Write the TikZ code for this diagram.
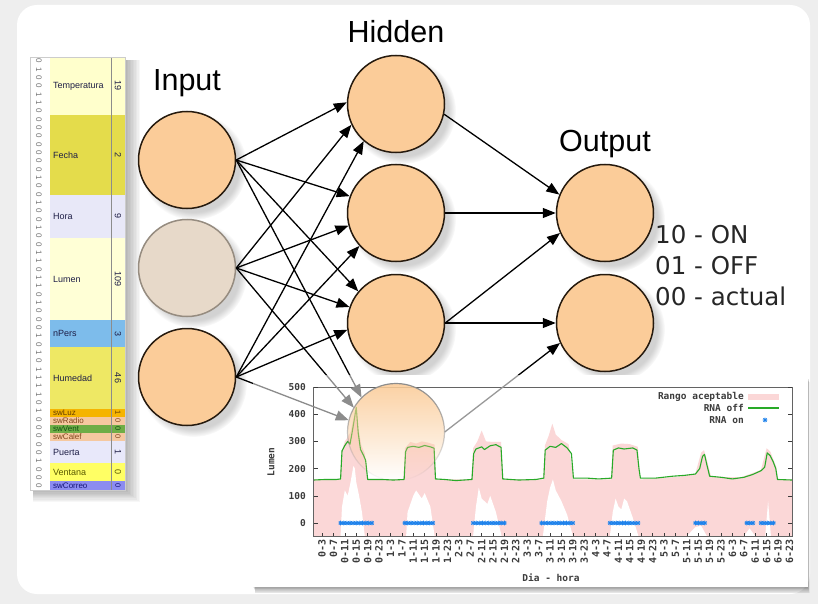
\documentclass[tikz,border=0pt]{standalone}
\usepackage{fontspec}
\setmainfont{Liberation Sans}
\newfontfamily\djvfont{DejaVu Sans}
\newfontfamily\plotmono{DejaVu Sans Mono}
\usetikzlibrary{arrows.meta,shadows,fadings}

\definecolor{bgpage}{RGB}{238,238,238}
\definecolor{peach}{RGB}{251,204,153}
\definecolor{rim}{RGB}{38,26,14}
\definecolor{fadefill}{RGB}{231,217,201}
\definecolor{faderim}{RGB}{150,140,128}
\definecolor{pinkr}{RGB}{251,215,215}
\definecolor{greenl}{RGB}{40,170,40}
\definecolor{starblue}{RGB}{30,130,235}
\definecolor{plotgray}{RGB}{60,60,60}
\definecolor{rowA}{RGB}{255,255,204}
\definecolor{rowB}{RGB}{228,220,75}
\definecolor{rowC}{RGB}{232,232,248}
\definecolor{rowD}{RGB}{255,255,214}
\definecolor{rowE}{RGB}{125,188,235}
\definecolor{rowF}{RGB}{238,232,100}
\definecolor{rowG}{RGB}{245,180,0}
\definecolor{rowH}{RGB}{245,200,160}
\definecolor{rowI}{RGB}{110,173,70}
\definecolor{rowK}{RGB}{232,232,250}
\definecolor{rowL}{RGB}{255,255,100}
\definecolor{rowM}{RGB}{140,140,240}
\definecolor{labA}{RGB}{30,30,70}
\definecolor{labG}{RGB}{100,60,0}
\definecolor{labH}{RGB}{130,70,30}
\definecolor{labI}{RGB}{20,80,20}
\definecolor{labL}{RGB}{90,90,0}
\definecolor{labM}{RGB}{20,20,120}

\newcommand\rnastar[1]{%
  \draw[starblue, line width=0.7pt] ({#1},0) +(-2.3pt,0) -- +(2.3pt,0)
     +(0,-2.3pt) -- +(0,2.3pt) +(-1.7pt,-1.7pt) -- +(1.7pt,1.7pt)
     +(-1.7pt,1.7pt) -- +(1.7pt,-1.7pt);}

\begin{document}
\begin{tikzpicture}[x=1pt,y=-1pt,
  neuron/.style={circle,draw=rim,line width=1.5pt,fill=peach,minimum size=97pt,inner sep=0pt,
     circular drop shadow={shadow xshift=6pt,shadow yshift=-6pt,opacity=0.35}},
  neuronfaded/.style={neuron,draw=faderim,fill=fadefill},
  conn/.style={line width=1.3pt,-{Triangle[length=13pt,width=10pt]}},
  title/.style={font=\fontsize{30.5}{36}\selectfont,inner sep=0pt,anchor=base},
  code/.style={font=\djvfont\fontsize{24.5}{29}\selectfont,inner sep=0pt,anchor=base west,text=black!85},
  bit/.style={font=\fontsize{8}{9}\selectfont,text=black!55,rotate=-90,inner sep=0pt},
  rowlab/.style={font=\fontsize{9}{10}\selectfont,anchor=west,inner sep=0pt},
  rowlabs/.style={font=\fontsize{8}{8}\selectfont,anchor=west,inner sep=0pt},
  rowval/.style={font=\fontsize{9}{10}\selectfont,rotate=-90,inner sep=0pt},
  pfont/.style={font=\plotmono\bfseries\fontsize{9.5}{10}\selectfont,text=plotgray,inner sep=0pt},
  xlab/.style={pfont,font=\plotmono\bfseries\fontsize{10}{10}\selectfont,rotate=90,anchor=east},
  ylab/.style={pfont,anchor=east},
]
\useasboundingbox (0,0) rectangle (818,604);
\fill[bgpage] (0,0) rectangle (818,604);
\fill[white, rounded corners=20pt] (17,5) rectangle (810,594);

% ---------------- left data bar ----------------
\foreach \k in {1,...,10} {\fill[black,opacity=0.03] (33,60) rectangle ({125+\k*1.5},{490+\k*1.2});}
\fill[white] (30,57) rectangle (125,490);
\foreach \ya/\yb/\col/\lab/\val/\tc [count=\i] in {
  57/115/rowA/Temperatura/19/labA, 115/195/rowB/Fecha/2/labA, 195/238/rowC/Hora/9/labA,
  238/320/rowD/Lumen/109/labA, 320/347/rowE/nPers/3/labA, 347/409/rowF/Humedad/46/labA,
  441/463/rowK/Puerta/1/labA, 463/481/rowL/Ventana/0/labL} {
  \fill[\col] (50,\ya) rectangle (125,\yb);
  \node[rowlab,text=\tc] (rl\i) at (53,{(\ya+\yb)/2}) {\lab};
  \node[rowval,text=\tc] (rv\i) at (118,{(\ya+\yb)/2}) {\val};
}
\foreach \ya/\yb/\col/\lab/\val/\tc [count=\i] in {
  409/417/rowG/swLuz/1/labG, 417/425/rowH/swRadio/0/labH, 425/433/rowI/swVent/0/labI,
  433/441/rowH/swCalef/0/labH, 481/490/rowM/swCorreo/0/labM} {
  \fill[\col] (50,\ya) rectangle (125,\yb);
  \node[rowlabs,text=\tc] (sl\i) at (53,{(\ya+\yb)/2}) {\lab};
  \node[rowval,text=\tc,font=\fontsize{7.5}{8}\selectfont] (sv\i) at (118,{(\ya+\yb)/2}) {\val};
}
\draw[black!45, line width=0.6pt] (111,57) -- (111,490);
\draw[black!20, line width=0.5pt] (30,57) rectangle (125,490);
\foreach \d [count=\i] in {0,1,0,0,1,1,0,0,0,0,0,0,0,0,1,0,0,1,0,0,1,0,0,1,1,0,1,1,0,1,0,
                           0,0,1,0,1,0,1,1,1,1,0,1,0,0,0,0,0,1,0,0,0} {
  \node[bit] (b\i) at (39,{57+(\i-0.5)*8.33}) {\d};
}

% ---------------- titles ----------------
\node[title] (tin) at (187,91) {Input};
\node[title] (thid) at (396,43) {Hidden};
\node[title] (tout) at (605,152) {Output};

% ---------------- neurons ----------------
\node[neuron] (in1) at (187,160) {};
\node[neuronfaded] (in2) at (187,268) {};
\node[neuron] (in3) at (187,377) {};
\node[neuron] (h1) at (396,104) {};
\node[neuron] (h2) at (396,213) {};
\node[neuron] (h3) at (396,323) {};
\node[circle,minimum size=97pt,inner sep=0pt] (h4) at (396,432) {};
\node[neuron] (o1) at (605,213) {};
\node[neuron] (o2) at (605,323) {};

% ---------------- connections ----------------
\draw[conn] (in1.east) -- (h1.178);
\draw[conn] (in2.east) -- (h1.205);
\draw[conn] (in3.east) -- (h1.229);
\draw[conn] (in1.east) -- (h2.160);
\draw[conn] (in2.east) -- (h2.195);
\draw[conn] (in3.east) -- (h2.222);
\draw[conn] (in1.east) -- (h3.140);
\draw[conn] (in2.east) -- (h3.161);
\draw[conn] (in3.east) -- (h3.188);
\draw[conn] (in1.east) -- (h4.135);
\draw[conn] (in2.east) -- (h4.150);
\draw[conn] (in3.east) -- (h4.166);
\draw[conn] (h1.-12) -- (o1.158);
\draw[conn] (h2.east) -- (o1.west);
\draw[conn] (h3.east) -- (o1.204);
\draw[conn] (h3.east) -- (o2.west);
\draw[conn] (h4.east) -- (o2.204);

\node[code] (c1) at (655,243) {10 - ON};
\node[code] (c2) at (655,274) {01 - OFF};
\node[code] (c3) at (655,305) {00 - actual};

% ---------------- chart panel ----------------
\foreach \k in {1,...,8} {\fill[black,opacity=0.05] ({253+\k*0.3},{377+\k*0.6}) rectangle ({808+\k*0.2},{587+\k*0.8});}
\fill[white] (253,375) rectangle (808,587);

\begin{scope}[shift={(313.5,523)}, x=2.85pt, y=0.272pt]
  \fill[pinkr] (0,-48) -- plot coordinates {(0,160) (9.3,160) (9.8,260) (11,300) (12,315) (13,335) (14,385) (15,435) (15.8,345) (16.8,285) (18,255) (19,160) (31.6,160) (32.1,275) (34,298) (36,292) (38,300) (40,296) (42.5,288) (42.9,160) (55.4,160) (56,275) (57.5,300) (59,340) (60.5,300) (63,298) (65.8,298) (66.6,160) (80.6,160) (81.2,285) (82.5,320) (83.8,365) (85,325) (87,305) (89.5,290) (91.3,160) (104.4,160) (105,285) (108,292) (111,290) (113.8,280) (114.6,160) (128,170) (134,182) (136,258) (137,268) (138.2,225) (139.5,170) (150,168) (157,195) (159,275) (160.3,262) (162.4,205) (163,160) (168,160)} -- (168,-48) -- cycle;
  \fill[white] (9.5,-48) -- (10,60) -- (11,120) -- (12,100) -- (13,150) -- (14,210) -- (14.5,200) -- (15,150) -- (16,100) -- (17,40) -- (18,-48) -- cycle;
  \fill[white] (32.5,-48) -- (33,40) -- (35,100) -- (36,120) -- (38,90) -- (39,110) -- (41,60) -- (42.5,-48) -- cycle;
  \fill[white] (56,-48) -- (57,60) -- (58,130) -- (59,90) -- (61,70) -- (62,100) -- (64,40) -- (66,-48) -- cycle;
  \fill[white] (80.5,-48) -- (82,80) -- (83,130) -- (84,160) -- (85,120) -- (87,80) -- (89,30) -- (91,-48) -- cycle;
  \fill[white] (104,-48) -- (105,40) -- (106,90) -- (107,60) -- (108,50) -- (109,90) -- (110,80) -- (112,20) -- (114,-48) -- cycle;
  \fill[white] (131,-48) -- (134,-15) -- (136,-10) -- (138,-48) -- cycle;
  \fill[white] (151,-48) -- (153,-20) -- (155,-48) -- cycle;
  \fill[white] (158.5,-48) -- (159.5,80) -- (160.5,-48) -- cycle;
  \draw[greenl, line width=1.1pt, line join=round] plot coordinates {(0,158) (4,160) (8,160) (9.5,162) (10,265) (11,285) (12,300) (12.8,290) (13.5,330) (14.3,380) (15,425) (15.7,330) (16.5,270) (17.5,250) (18.3,230) (19,160) (24,160) (28,158) (31.8,160) (32.3,262) (33,278) (35,282) (37,278) (39,285) (41,280) (42.3,275) (42.8,162) (46,160) (50,156) (55.6,160) (56.2,255) (57,272) (59,280) (60,270) (62,284) (64,288) (65.8,278) (66.4,162) (72,158) (78,160) (80.8,165) (81.3,268) (83,282) (85,278) (87,292) (89,276) (90.5,255) (91.2,165) (96,165) (100,162) (104.6,165) (105.2,268) (107,276) (109,272) (112,276) (113.5,268) (114.2,200) (114.7,165) (120,165) (126,172) (130,175) (134,180) (135.5,200) (136.5,245) (137.2,252) (138,215) (139,172) (143,168) (147,162) (151,168) (154,178) (157,192) (158.3,205) (159.2,258) (160.2,248) (161.3,225) (162.2,200) (162.8,160) (168,158)};
  \foreach \a/\n in {9.5/10, 32/9, 56/10, 80/10, 104/9, 134/3, 152/2, 157/4} {
    \draw[starblue!55, line width=3pt] (\a,0) -- ({\a+1.1*\n},0);
    \foreach \k in {0,...,\n} {\rnastar{\a+1.1*\k}}
  }
  \draw[plotgray!80, line width=0.8pt] (0,-48) rectangle (168,500);
  \foreach \v in {0,100,...,500} {
    \draw[plotgray, line width=0.6pt] (0,\v) -- +(4pt,0);
    \draw[plotgray, line width=0.6pt] (168,\v) -- +(-4pt,0);
    \node[ylab] (yl\v) at (-2.6,\v) {\v};
  }
  \foreach \d in {0,...,6} {
    \foreach \h in {3,7,11,15,19,23} {
      \draw[plotgray, line width=0.6pt] ({24*\d+\h},-48) -- +(0,3pt);
      \node[xlab] (xl\d x\h) at ({24*\d+\h},-60) {\d-\h};
    }
  }
\end{scope}
\node[pfont,rotate=90] (ylabel) at (271,462) {Lumen};
\node[pfont] (xlabel) at (551,578) {Dia - hora};
\node[pfont,anchor=east] (lg1) at (744,397) {Rango aceptable};
\node[pfont,anchor=east] (lg2) at (744,408) {RNA off};
\node[pfont,anchor=east] (lg3) at (744,420) {RNA on};
\fill[pinkr] (748,394) rectangle (779,400);
\draw[greenl, line width=1.1pt] (748,408) -- (779,408);
\begin{scope}[shift={(765,420)}]
  \draw[starblue, line width=0.7pt] (-2.3,0) -- (2.3,0) (0,-2.3) -- (0,2.3) (-1.7,-1.7) -- (1.7,1.7) (-1.7,1.7) -- (1.7,-1.7);
\end{scope}

% connectors seen through the chart
\begin{scope}
  \clip (253,375) rectangle (808,587);
  \draw[conn, black!45] (in1.east) -- (h4.135);
  \draw[conn, black!45] (in2.east) -- (h4.150);
  \draw[conn, black!45] (in3.east) -- (h4.166);
  \draw[conn, black!40] (h4.east) -- (o2.204);
\end{scope}

% faded hidden neuron over the chart
\fill[peach, path fading=south, fill opacity=0.9] (h4.center) circle (48.5pt);
\draw[black!45, line width=1.2pt, path fading=south] (h4.center) circle (48.5pt);
\end{tikzpicture}
\end{document}
